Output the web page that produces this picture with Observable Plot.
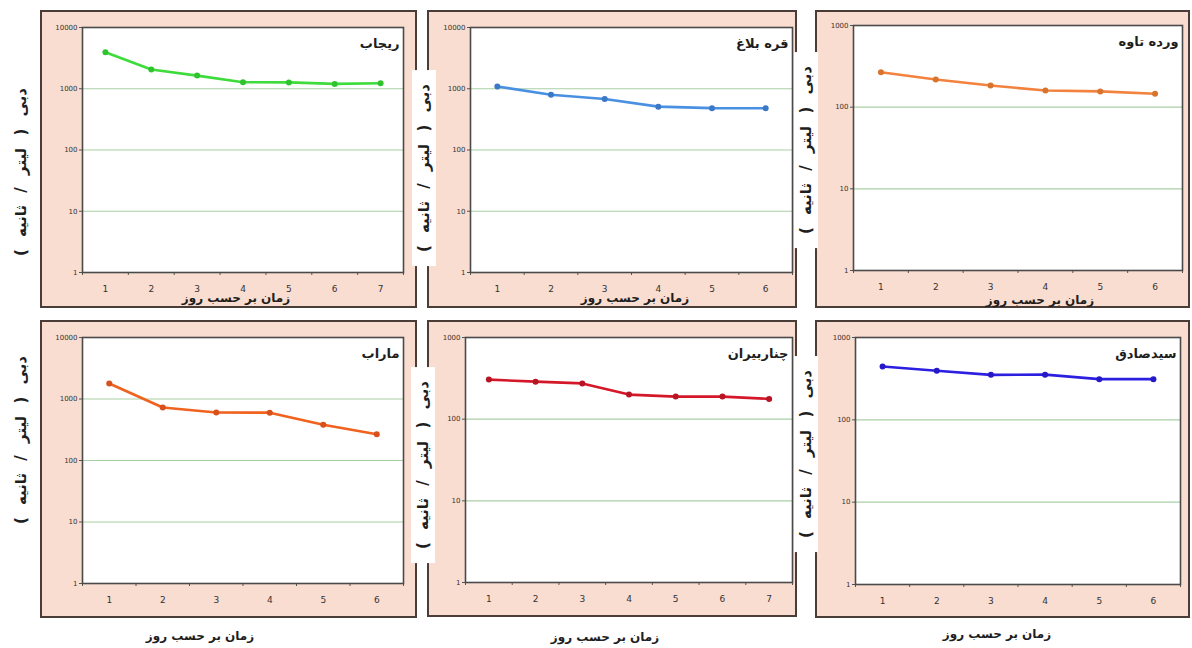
<!DOCTYPE html>
<html><head><meta charset="utf-8">
<script src="https://cdn.jsdelivr.net/npm/d3@7"></script>
<script src="https://cdn.jsdelivr.net/npm/@observablehq/plot@0.6"></script>
<style>
body{margin:0;background:#fff;}
#wrap{position:relative;width:1192px;height:648px;overflow:hidden;font-family:"DejaVu Sans",sans-serif;background:#fff;}
.frame{position:absolute;background:#f9ddd0;border:2px solid #4a3d38;box-sizing:border-box;}
.frame svg{display:block;}
.ylab{position:absolute;transform:translate(-50%,-50%) rotate(-90deg);white-space:nowrap;font-weight:bold;font-size:15px;color:#1e1e1e;direction:rtl;word-spacing:7px;}
.ylab.boxed{background:#fff;padding:3px 14px;}
.xlab{position:absolute;transform:translate(-50%,-50%);font-weight:bold;font-size:12px;color:#1e1e1e;direction:rtl;white-space:nowrap;}
</style></head><body><div id="wrap"></div>
<script>
// ---- data ----
const stationNames = ["ریجاب", "قره بلاغ", "ورده تاوه", "ماراب", "چناربیران", "سیدصادق"];
const days6 = [1, 2, 3, 4, 5, 6];
const days7 = [1, 2, 3, 4, 5, 6, 7];
const rijabFlow = [3950, 2060, 1640, 1280, 1270, 1200, 1230];
const gharehBolaghFlow = [1090, 800, 680, 510, 482, 480];
const vardehTavehFlow = [268, 218, 184, 160, 156, 146];
const marabFlow = [1790, 728, 603, 600, 380, 268];
const chenarbiranFlow = [305, 288, 274, 200, 189, 189, 177];
const seyedSadeghFlow = [444, 394, 352, 354, 312, 312];
const yTicks4 = [1, 10, 100, 1000, 10000];
const yTicks3 = [1, 10, 100, 1000];
const yAxisTitle = "دبی ( لیتر / ثانیه )";
const xAxisTitle = "زمان بر حسب روز";

// ---- layout ----
const panels = [
  {name: stationNames[0], days: days7, flow: rijabFlow, ticks: yTicks4, color: "#3ddc3a", dot: "#2fc42f",
   frame: [40, 10, 417, 308], plot: [82, 27, 403, 272], ylab: [21, 172, false], xlab: [236, 298]},
  {name: stationNames[1], days: days6, flow: gharehBolaghFlow, ticks: yTicks4, color: "#4a90e2", dot: "#3a78c8",
   frame: [427, 10, 797, 308], plot: [470, 27, 792, 272], ylab: [424, 168, true], xlab: [635, 298]},
  {name: stationNames[2], days: days6, flow: vardehTavehFlow, ticks: yTicks3, color: "#f2823e", dot: "#d8742e",
   frame: [815, 10, 1190, 308], plot: [853, 25, 1182, 270], ylab: [806, 150, true], xlab: [1040, 300]},
  {name: stationNames[3], days: days6, flow: marabFlow, ticks: yTicks4, color: "#f0621e", dot: "#d8501a",
   frame: [40, 320, 417, 618], plot: [82, 337, 403, 583], ylab: [21, 440, false], xlab: [200, 636]},
  {name: stationNames[4], days: days7, flow: chenarbiranFlow, ticks: yTicks3, color: "#d4182a", dot: "#b81424",
   frame: [427, 320, 797, 617], plot: [465, 337, 792, 582], ylab: [423, 465, true], xlab: [605, 637]},
  {name: stationNames[5], days: days6, flow: seyedSadeghFlow, ticks: yTicks3, color: "#2c1fe0", dot: "#2418c8",
   frame: [815, 320, 1190, 618], plot: [855, 337, 1180, 584], ylab: [806, 454, true], xlab: [997, 634]}
];

const wrap = document.getElementById("wrap");
const B = 2; // frame border

panels.forEach(p => {
  const [fx0, fy0, fx1, fy1] = p.frame;
  const [px0, py0, px1, py1] = p.plot;
  const div = document.createElement("div");
  div.className = "frame";
  div.style.left = fx0 + "px"; div.style.top = fy0 + "px";
  div.style.width = (fx1 - fx0) + "px"; div.style.height = (fy1 - fy0) + "px";
  const W = fx1 - fx0 - 2 * B, H = fy1 - fy0 - 2 * B;
  const n = p.days.length;
  const bounds = d3.range(n + 1).map(i => i + 0.5);
  const data = p.days.map((d, i) => ({day: d, flow: p.flow[i]}));
  const ymax = p.ticks[p.ticks.length - 1];
  const chart = Plot.plot({
    width: W, height: H,
    marginLeft: px0 - fx0 - B, marginRight: fx1 - B - px1,
    marginTop: py0 - fy0 - B, marginBottom: fy1 - B - py1,
    style: {background: "transparent", fontFamily: "DejaVu Sans, sans-serif", overflow: "visible"},
    x: {type: "linear", domain: [0.5, n + 0.5], axis: null},
    y: {type: "log", domain: [1, ymax], axis: null},
    marks: [
      Plot.frame({fill: "white"}),
      Plot.ruleY(p.ticks.slice(1, -1), {stroke: "#a8cfa4", strokeWidth: 1.2}),
      Plot.axisY(p.ticks, {tickSize: 3, tickPadding: 2, tickFormat: d => String(d), fontSize: 7, label: null, stroke: "#555", color: "#333"}),
      Plot.axisX(p.days, {tickSize: 0, tickPadding: 13, tickFormat: d => String(d), fontSize: 9, label: null, color: "#333"}),
      Plot.axisX(bounds, {tickSize: 3, tickFormat: () => "", label: null, stroke: "#555"}),
      Plot.frame({stroke: "#4a4a4a", strokeWidth: 1.6}),
      Plot.line(data, {x: "day", y: "flow", stroke: p.color, strokeWidth: 2.6}),
      Plot.dot(data, {x: "day", y: "flow", fill: p.dot, r: 3}),
      Plot.text([p.name], {frameAnchor: "top-right", dx: -4, dy: 11, fontWeight: "bold", fontSize: 13, fill: "#1e1e1e"})
    ]
  });
  div.appendChild(chart);
  wrap.appendChild(div);
});

panels.forEach(p => {
  const yl = document.createElement("div");
  yl.className = "ylab" + (p.ylab[2] ? " boxed" : "");
  yl.textContent = yAxisTitle;
  yl.style.left = p.ylab[0] + "px"; yl.style.top = p.ylab[1] + "px";
  wrap.appendChild(yl);
  const xl = document.createElement("div");
  xl.className = "xlab";
  xl.textContent = xAxisTitle;
  xl.style.left = p.xlab[0] + "px"; xl.style.top = p.xlab[1] + "px";
  wrap.appendChild(xl);
});
</script></body></html>
